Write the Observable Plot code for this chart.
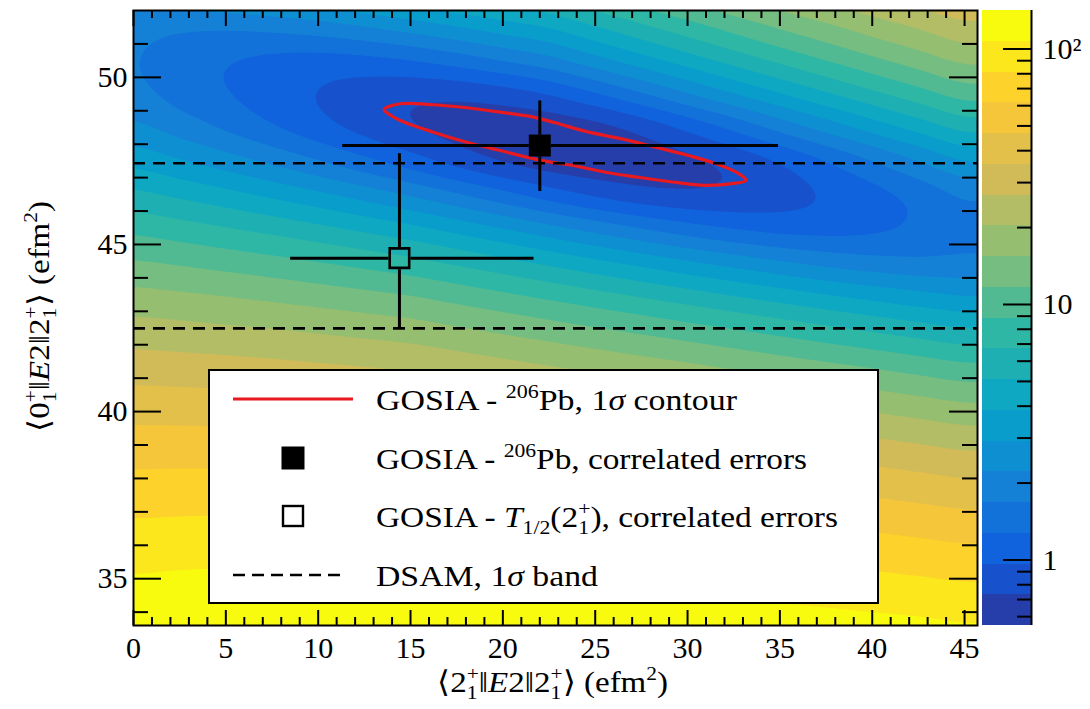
<!DOCTYPE html>
<html>
<head>
<meta charset="utf-8">
<script src="https://cdn.jsdelivr.net/npm/d3@7"></script>
<script src="https://cdn.jsdelivr.net/npm/@observablehq/plot@0.6"></script>
<style>
  body { margin: 0; background: #fff; }
  #wrap { position: relative; width: 1090px; height: 709px; }
  #wrap svg { position: absolute; left: 0; top: 0; }
  #wrap svg text { font-family: "Liberation Serif", "Times New Roman", serif; white-space: pre; }
</style>
</head>
<body>
<div id="wrap"></div>
<script>
// ---------------- DATA ----------------
// chi2 surface sampled on a grid: columns = gridX, rows = gridY (top to bottom)
const gridX = [0, 2.5, 5, 7.5, 10, 12.5, 15, 17.5, 20, 22.5, 25, 27.5, 30, 32.5, 35, 37.5, 40, 42.5, 45];
const gridY = [52.5, 51.5, 50.5, 49.5, 48.5, 47.5, 46.5, 45.5, 44.5, 43.5, 42.5, 41.5, 40.5, 39.5, 38.5, 37.5, 36.5, 35.5, 34.5, 33.5];
const chi2Rows = [
  [2.63, 2.75, 2.96, 3.25, 3.63, 4.11, 4.67, 5.31, 6.05, 6.87, 8.54, 10.5, 12.8, 15.5, 18.6, 22.1, 26.1, 30.6, 35.6],
  [1.86, 1.77, 1.75, 1.82, 1.96, 2.19, 2.49, 2.88, 3.36, 3.92, 4.98, 6.29, 7.87, 9.75, 12.0, 14.5, 17.5, 20.8, 24.6],
  [1.70, 1.48, 1.31, 1.20, 1.15, 1.18, 1.27, 1.44, 1.69, 2.01, 2.61, 3.39, 4.38, 5.60, 7.08, 8.83, 10.9, 13.3, 16.1],
  [1.82, 1.53, 1.30, 1.11, 0.959, 0.850, 0.790, 0.789, 0.851, 0.982, 1.24, 1.63, 2.17, 2.88, 3.78, 4.89, 6.25, 7.87, 9.78],
  [2.36, 1.97, 1.62, 1.32, 1.08, 0.890, 0.755, 0.671, 0.625, 0.622, 0.678, 0.811, 1.04, 1.37, 1.85, 2.47, 3.27, 4.27, 5.49],
  [3.51, 3.00, 2.52, 2.09, 1.70, 1.37, 1.10, 0.877, 0.726, 0.640, 0.612, 0.634, 0.695, 0.811, 1.00, 1.29, 1.69, 2.23, 2.92],
  [5.40, 4.79, 4.19, 3.61, 3.08, 2.58, 2.13, 1.72, 1.38, 1.11, 0.926, 0.813, 0.770, 0.791, 0.871, 0.998, 1.17, 1.42, 1.76],
  [8.14, 7.46, 6.75, 6.06, 5.37, 4.71, 4.09, 3.44, 2.87, 2.38, 1.97, 1.65, 1.41, 1.25, 1.16, 1.15, 1.21, 1.35, 1.53],
  [11.8, 11.1, 10.3, 9.55, 8.75, 7.94, 7.14, 6.24, 5.41, 4.67, 4.00, 3.44, 2.95, 2.55, 2.23, 1.99, 1.84, 1.77, 1.79],
  [16.6, 15.9, 15.1, 14.2, 13.3, 12.4, 11.5, 10.3, 9.18, 8.16, 7.22, 6.39, 5.64, 4.96, 4.37, 3.86, 3.44, 3.11, 2.87],
  [22.5, 21.8, 21.0, 20.2, 19.2, 18.2, 17.2, 15.7, 14.3, 13.0, 11.8, 10.7, 9.66, 8.70, 7.81, 7.00, 6.28, 5.64, 5.10],
  [29.6, 29.0, 28.3, 27.5, 26.5, 25.5, 24.4, 22.7, 21.0, 19.4, 17.9, 16.5, 15.2, 13.9, 12.7, 11.6, 10.6, 9.61, 8.74],
  [38.0, 37.6, 37.0, 36.3, 35.4, 34.3, 33.2, 31.3, 29.3, 27.4, 25.6, 24.0, 22.4, 20.8, 19.3, 17.9, 16.5, 15.2, 14.0],
  [47.7, 47.6, 47.2, 46.6, 45.9, 44.9, 43.8, 41.6, 39.4, 37.2, 35.1, 33.2, 31.4, 29.5, 27.8, 26.0, 24.3, 22.7, 21.1],
  [58.8, 59.1, 59.0, 58.6, 58.0, 57.2, 56.2, 53.8, 51.3, 48.9, 46.4, 44.4, 42.3, 40.2, 38.1, 36.1, 34.1, 32.1, 30.2],
  [71.5, 72.1, 72.3, 72.3, 72.0, 71.4, 70.6, 67.9, 65.2, 62.5, 59.8, 57.6, 55.2, 52.9, 50.6, 48.2, 45.9, 43.6, 41.4],
  [85.7, 86.8, 87.5, 87.8, 87.8, 87.5, 86.9, 84.1, 81.1, 78.3, 75.3, 72.9, 70.4, 67.8, 65.2, 62.7, 60.1, 57.4, 54.9],
  [101, 103, 104, 105, 106, 106, 105, 102, 99.3, 96.2, 93.0, 90.4, 87.8, 85.0, 82.3, 79.4, 76.6, 73.7, 70.8],
  [119, 121, 123, 125, 125, 126, 126, 123, 120, 116, 113, 110, 108, 105, 102, 98.7, 95.6, 92.5, 89.3],
  [138, 141, 144, 146, 147, 148, 149, 146, 142, 139, 135, 133, 130, 127, 124, 121, 117, 114, 110]
];

// 1-sigma contour (GOSIA - 206Pb)
const ellipseX = [13.57, 14.44, 16.24, 18.04, 19.85, 21.65, 22.84, 24.65, 26.45, 28.26, 30.06, 31.51, 32.77, 33.17,
                  32.41, 30.96, 29.16, 27.35, 25.55, 23.75, 22.84, 21.65, 19.85, 18.04, 16.24, 14.44, 13.80];
const ellipseY = [49.04, 49.21, 49.18, 49.09, 48.96, 48.81, 48.64, 48.36, 48.16, 47.91, 47.66, 47.42, 47.12, 46.92,
                  46.82, 46.77, 46.87, 47.01, 47.16, 47.37, 47.44, 47.57, 47.81, 48.06, 48.36, 48.71, 48.91];

// Points with correlated errors: [206Pb (filled), T1/2 (open)]
const pointNames = ["pb206", "t12"];
const pointX   = [22.0, 14.4];
const pointY   = [47.96, 44.59];
const pointXLo = [11.3, 8.48];
const pointXHi = [34.9, 21.66];
const pointYLo = [46.6, 42.48];
const pointYHi = [49.31, 47.73];
const pointFilled = [true, false];

// DSAM 1-sigma band
const dsamBand = [42.49, 47.43];

// Axes
const xDomain = [0, 45.7];
const yDomain = [33.6, 52.0];
const xMajor = [0, 5, 10, 15, 20, 25, 30, 35, 40, 45];
const yMajor = [35, 40, 45, 50];
const zMin = 0.554, zMax = 141.5, nLevels = 20;
const cbMajor = [1, 10, 100];
const cbMinor = [0.6, 0.7, 0.8, 0.9, 2, 3, 4, 5, 6, 7, 8, 9, 20, 30, 40, 50, 60, 70, 80, 90];

// ROOT kBird palette
const birdR = [0.2082, 0.0592, 0.0780, 0.0232, 0.1802, 0.5301, 0.8186, 0.9956, 0.9764];
const birdG = [0.1664, 0.3599, 0.5041, 0.6419, 0.7178, 0.7492, 0.7328, 0.7862, 0.9832];
const birdB = [0.5293, 0.8684, 0.8385, 0.7914, 0.6425, 0.4662, 0.3499, 0.1968, 0.0539];

// ---------------- BUILD ----------------
const FONT = "Liberation Serif, Times New Roman, serif";
const bird = d3.piecewise(d3.interpolateRgb, birdR.map((r, i) => d3.rgb(r * 255, birdG[i] * 255, birdB[i] * 255)));
const L0 = Math.log10(zMin), dL = (Math.log10(zMax) - L0) / nLevels;
const levelLogs = d3.range(nLevels + 1).map(i => L0 + i * dL);
const bandColors = d3.range(nLevels).map(i => bird((i + 1) / nLevels));
const colorScale = {type: "threshold", domain: levelLogs.slice(1, nLevels), range: bandColors};
const contourThresholds = [-3, ...levelLogs.slice(1, nLevels)];

// grid samples (log10 chi2) as points
const samples = [];
gridY.forEach((gy, r) => gridX.forEach((gx, c) => samples.push({x: gx, y: gy, v: Math.log10(chi2Rows[r][c])})));

// smooth (Catmull-Rom bicubic) rendering of the sampled grid, used as Plot's raster interpolator
function bicubic(index, w, h, X, Y, V) {
  const nx = gridX.length, ny = gridY.length;
  const cx0 = X[0], cdx = X[1] - X[0];
  const ry0 = Y[0], rdy = Y[nx] - Y[0];
  const val = (r, c) => V[Math.max(0, Math.min(ny - 1, r)) * nx + Math.max(0, Math.min(nx - 1, c))];
  const cr = (p0, p1, p2, p3, t) => 0.5 * (2 * p1 + (-p0 + p2) * t + (2 * p0 - 5 * p1 + 4 * p2 - p3) * t * t + (-p0 + 3 * p1 - 3 * p2 + p3) * t * t * t);
  const out = new Float64Array(w * h);
  for (let j = 0; j < h; ++j) {
    const v = (j + 0.5 - ry0) / rdy;
    const r = Math.max(0, Math.min(ny - 2, Math.floor(v)));
    const tv = v - r;
    for (let i = 0; i < w; ++i) {
      const u = (i + 0.5 - cx0) / cdx;
      const c = Math.max(0, Math.min(nx - 2, Math.floor(u)));
      const tu = u - c;
      const q = [];
      for (let k = -1; k <= 2; ++k) q.push(cr(val(r + k, c - 1), val(r + k, c), val(r + k, c + 1), val(r + k, c + 2), tu));
      out[j * w + i] = cr(q[0], q[1], q[2], q[3], tv);
    }
  }
  return out;
}

const xMinor = d3.range(1, 45).filter(v => v % 5 !== 0);
const yMinor = d3.range(34, 52).filter(v => v % 5 !== 0);

const W = 1090, H = 709;
const mL = 133, mR = 113, mT = 10, mB = 84;
const frameW = W - mL - mR, frameH = H - mT - mB;

const ellipseIdx = d3.range(ellipseX.length);
const errSegs = [];
pointNames.forEach((n, i) => {
  errSegs.push({x1: pointX[i], y1: pointY[i], x2: pointXLo[i], y2: pointY[i]});
  errSegs.push({x1: pointX[i], y1: pointY[i], x2: pointXHi[i], y2: pointY[i]});
  errSegs.push({x1: pointX[i], y1: pointY[i], x2: pointX[i], y2: pointYLo[i]});
  errSegs.push({x1: pointX[i], y1: pointY[i], x2: pointX[i], y2: pointYHi[i]});
});
const pts = pointNames.map((n, i) => ({x: pointX[i], y: pointY[i], filled: pointFilled[i]}));

const main = Plot.plot({
  width: W, height: H,
  marginLeft: mL, marginRight: mR, marginTop: mT, marginBottom: mB,
  x: {domain: xDomain, label: null},
  y: {domain: yDomain, label: null},
  color: colorScale,
  style: {fontFamily: FONT, fontSize: "30px", color: "black", background: "transparent"},
  marks: [
    Plot.contour(samples, {
      x: "x", y: "y", fill: "v", interpolate: bicubic, pixelSize: 2,
      thresholds: contourThresholds, clip: true
    }),
    Plot.line(ellipseIdx, {x: i => ellipseX[i], y: i => ellipseY[i], curve: "catmull-rom-closed",
      stroke: "#e8191f", strokeWidth: 3.2}),
    Plot.ruleY(dsamBand, {y: d => d, stroke: "black", strokeWidth: 2.6, strokeDasharray: "12,8"}),
    Plot.arrow(errSegs, {x1: "x1", y1: "y1", x2: "x2", y2: "y2", headLength: 0, insetStart: 11,
      stroke: "black", strokeWidth: 3, strokeLinecap: "butt"}),
    Plot.dot(pts.filter(d => d.filled), {x: "x", y: "y", symbol: "square", r: 12.4, fill: "black", stroke: "none"}),
    Plot.dot(pts.filter(d => !d.filled), {x: "x", y: "y", symbol: "square", r: 11, fill: "none", stroke: "black", strokeWidth: 2.6}),
    // ticks (inside the frame, on all four sides)
    Plot.tickX(xMajor, {x: d => d, insetTop: frameH - 15, stroke: "black", strokeWidth: 2}),
    Plot.tickX(xMinor, {x: d => d, insetTop: frameH - 8, stroke: "black", strokeWidth: 2}),
    Plot.tickX(xMajor, {x: d => d, insetBottom: frameH - 16, stroke: "black", strokeWidth: 2}),
    Plot.tickX(xMinor, {x: d => d, insetBottom: frameH - 8, stroke: "black", strokeWidth: 2}),
    Plot.tickY(yMajor, {y: d => d, insetRight: frameW - 28, stroke: "black", strokeWidth: 2}),
    Plot.tickY(yMinor, {y: d => d, insetRight: frameW - 15, stroke: "black", strokeWidth: 2}),
    Plot.tickY(yMajor, {y: d => d, insetLeft: frameW - 28, stroke: "black", strokeWidth: 2}),
    Plot.tickY(yMinor, {y: d => d, insetLeft: frameW - 15, stroke: "black", strokeWidth: 2}),
    Plot.axisX({ticks: xMajor, anchor: "bottom", tickSize: 0, tickPadding: 11, label: null, fontSize: 30, fontFamily: FONT}),
    Plot.axisY({ticks: yMajor, anchor: "left", tickSize: 0, tickPadding: 6, label: null, fontSize: 30, fontFamily: FONT}),
    Plot.frame({stroke: "black", strokeWidth: 2})
  ]
});

const cbar = Plot.plot({
  width: W, height: H,
  marginLeft: 982, marginRight: 59, marginTop: mT, marginBottom: mB,
  x: {domain: [0, 1], label: null, axis: null},
  y: {type: "log", domain: [zMin, zMax], label: null},
  color: colorScale,
  style: {fontFamily: FONT, fontSize: "30px", color: "black", background: "transparent"},
  marks: [
    Plot.rect(d3.range(nLevels), {x1: 0, x2: 1, y1: i => 10 ** levelLogs[i], y2: i => 10 ** levelLogs[i + 1],
      fill: i => levelLogs[i], shapeRendering: "crispEdges"}),
    Plot.tickY(cbMajor, {y: d => d, insetLeft: 49 - 28, stroke: "black", strokeWidth: 2}),
    Plot.tickY(cbMinor, {y: d => d, insetLeft: 49 - 14, stroke: "black", strokeWidth: 2}),
    Plot.ruleX([1], {stroke: "black", strokeWidth: 2}),
    Plot.axisY({ticks: cbMajor, anchor: "right", tickSize: 0, tickPadding: 11, label: null, fontSize: 30, fontFamily: FONT,
      tickFormat: d => d === 100 ? "10\u00B2" : String(d)})
  ]
});

const wrap = document.getElementById("wrap");
wrap.appendChild(main);
wrap.appendChild(cbar);

// ---------------- rich text (titles, legend) ----------------
function rich(sel, parts, fs) {
  for (const [str, kind] of parts) {
    const t = sel.append("tspan").text(str);
    if (kind === "i") t.attr("font-style", "italic");
    if (kind === "sup") t.attr("font-size", fs * 0.65).attr("baseline-shift", (fs * 0.4) + "px");
    if (kind === "sub") t.attr("font-size", fs * 0.65).attr("baseline-shift", (-fs * 0.22) + "px");
    if (kind === "supback") t.attr("font-size", fs * 0.65).attr("baseline-shift", (fs * 0.4) + "px").attr("dx", -fs * 0.65 * 0.5);
  }
}
const svg = d3.select(main);
const ann = svg.append("g").attr("fill", "black").attr("text-anchor", "start");

const xTitle = [["\u27E82", ""], ["1", "sub"], ["+", "supback"], ["\u2016", ""], ["E", "i"], ["2\u20162", ""], ["1", "sub"], ["+", "supback"], ["\u27E9 (efm", ""], ["2", "sup"], [")", ""]];
const yTitle = [["\u27E80", ""], ["1", "sub"], ["+", "supback"], ["\u2016", ""], ["E", "i"], ["2\u20162", ""], ["1", "sub"], ["+", "supback"], ["\u27E9 (efm", ""], ["2", "sup"], [")", ""]];

const xt = ann.append("text").attr("x", 437).attr("y", 692).attr("text-anchor", "start").attr("font-size", 30)
  .attr("textLength", 231).attr("lengthAdjust", "spacingAndGlyphs");
rich(xt, xTitle, 30);
const yt = ann.append("text").attr("transform", "translate(49,432) rotate(-90)").attr("text-anchor", "start").attr("font-size", 30)
  .attr("textLength", 231).attr("lengthAdjust", "spacingAndGlyphs");
rich(yt, yTitle, 30);

// legend
const lg = ann.append("g");
lg.append("rect").attr("x", 209).attr("y", 370).attr("width", 669).attr("height", 233)
  .attr("fill", "white").attr("stroke", "black").attr("stroke-width", 2);
const rowY = [399, 458, 516, 575];
lg.append("line").attr("x1", 233).attr("x2", 353).attr("y1", rowY[0]).attr("y2", rowY[0])
  .attr("stroke", "#e8191f").attr("stroke-width", 3);
lg.append("rect").attr("x", 293 - 11.5).attr("y", rowY[1] - 11.5).attr("width", 23).attr("height", 23).attr("fill", "black");
lg.append("rect").attr("x", 293 - 10).attr("y", rowY[2] - 10).attr("width", 20).attr("height", 20)
  .attr("fill", "none").attr("stroke", "black").attr("stroke-width", 2.4);
lg.append("line").attr("x1", 233).attr("x2", 345).attr("y1", rowY[3]).attr("y2", rowY[3])
  .attr("stroke", "black").attr("stroke-width", 2.6).attr("stroke-dasharray", "12,7");

const legendRows = [
  [["GOSIA - ", ""], ["206", "sup"], ["Pb, 1", ""], ["\u03C3", "i"], [" contour", ""]],
  [["GOSIA - ", ""], ["206", "sup"], ["Pb, correlated errors", ""]],
  [["GOSIA - ", ""], ["T", "i"], ["1/2", "sub"], ["(2", ""], ["1", "sub"], ["+", "supback"], ["), correlated errors", ""]],
  [["DSAM, 1", ""], ["\u03C3", "i"], [" band", ""]]
];
const legendLen = [361, 431, 462, 222];
legendRows.forEach((parts, i) => {
  const t = lg.append("text").attr("x", 376).attr("y", rowY[i] + 11).attr("font-size", 30).attr("text-anchor", "start")
    .attr("textLength", legendLen[i]).attr("lengthAdjust", "spacingAndGlyphs");
  rich(t, parts, 30);
});
</script>
</body>
</html>
